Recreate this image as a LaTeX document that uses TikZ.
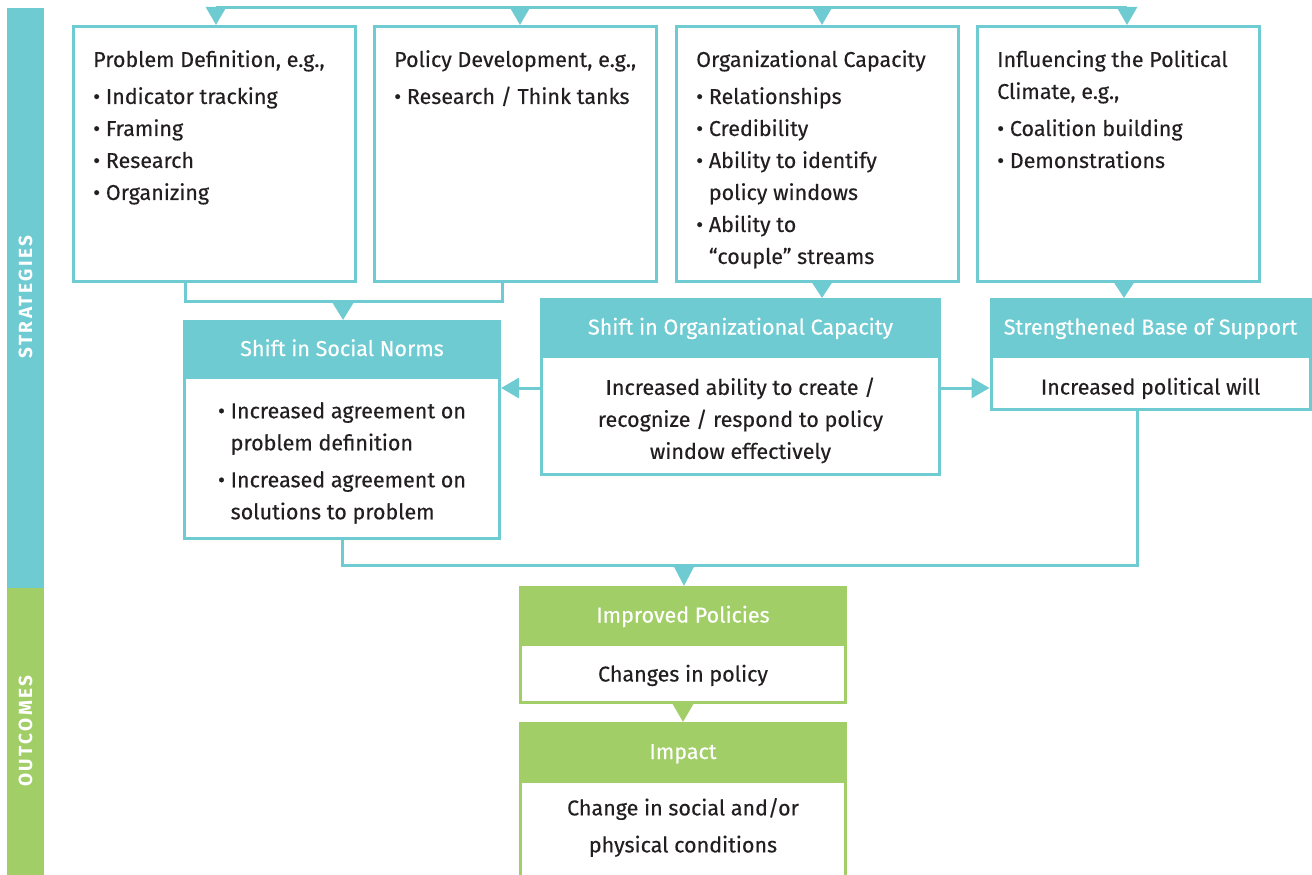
\documentclass[tikz,border=0pt]{standalone}
\usepackage{fontspec}
\setmainfont{Fira Sans}[UprightFeatures={FakeBold=0.3}]
\usepackage{xcolor}
\usetikzlibrary{positioning,arrows.meta}
\definecolor{stratteal}{HTML}{6FCBD2}
\definecolor{outgreen}{HTML}{A1CE67}
\definecolor{inkgray}{HTML}{231F20}
\newcommand{\bgap}{\phantom{•\ }}

\begin{document}
\begin{tikzpicture}[x=1pt,y=-1pt,
    every node/.style={font=\fontsize{21.5}{32}\selectfont, text=inkgray},
    stratbox/.style={draw=stratteal, line width=3pt, minimum width=282pt, minimum height=255pt, inner sep=0pt},
    listtxt/.style={anchor=north west, align=left, inner sep=0pt},
    hdr/.style={draw=#1, fill=#1, line width=3pt, text=white, inner sep=0pt, text height=16pt, text depth=0pt},
    bodybox/.style={draw=#1, fill=white, line width=3pt, inner sep=0pt},
    feed/.style={draw=stratteal, line width=3pt},
    tri/.style={feed, -{Triangle[width=20pt,length=18pt]}},
    bandtxt/.style={rotate=90, text=white, font=\fontsize{19}{20}\selectfont\bfseries\addfontfeature{LetterSpace=13}}
]
\clip (0,0) rectangle (1312,875);

% side bands
\fill[stratteal] (7,8) rectangle (44,588);
\fill[outgreen] (7,588) rectangle (44,875);
\node[bandtxt] (strat) at (25.5,297) {STRATEGIES};
\node[bandtxt] (outc) at (25.5,731) {OUTCOMES};

% strategy boxes
\node[stratbox] (pd) at (214.5,154) {};
\node[stratbox] (pv) at (515.5,154) {};
\node[stratbox] (oc) at (817.5,154) {};
\node[stratbox] (pc) at (1118.5,154) {};

\node[listtxt] (pdtxt) at ([shift={(21pt,-25pt)}]pd.north west)
  {Problem Definition, e.g.,\\[5pt] • Indicator tracking\\ • Framing\\ • Research\\ • Organizing};
\node[listtxt] (pvtxt) at ([shift={(21pt,-25pt)}]pv.north west)
  {Policy Development, e.g.,\\[5pt] • Research / Think tanks};
\node[listtxt] (octxt) at ([shift={(21pt,-25pt)}]oc.north west)
  {Organizational Capacity\\[5pt] • Relationships\\ • Credibility\\ • Ability to identify\\ \bgap policy windows\\ • Ability to\\ \bgap “couple” streams};
\node[listtxt] (pctxt) at ([shift={(21pt,-25pt)}]pc.north west)
  {Influencing the Political\\ Climate, e.g.,\\[5pt] • Coalition building\\ • Demonstrations};

% intermediate outcomes
\node[hdr=stratteal, minimum width=315pt, minimum height=53pt] (snh) at (342,348) {Shift in Social Norms};
\node[bodybox=stratteal, minimum width=315pt, minimum height=161pt, below=0pt of snh] (snb) {};
\node[align=left] (snbtxt) at ([yshift=-5pt]snb.center)
  {• Increased agreement on\\ \bgap problem definition\\[5pt] • Increased agreement on\\ \bgap solutions to problem};

\node[hdr=stratteal, minimum width=398pt, minimum height=54pt] (soh) at (740.5,326.5) {Shift in Organizational Capacity};
\node[bodybox=stratteal, minimum width=398pt, minimum height=118pt, below=0pt of soh] (sob) {};
\node[align=center] (sobtxt) at ([yshift=-5pt]sob.center)
  {Increased ability to create /\\ recognize / respond to policy\\ window effectively};

\node[hdr=stratteal, minimum width=319pt, minimum height=54pt] (sbh) at (1150.5,326.5) {Strengthened Base of Support};
\node[bodybox=stratteal, minimum width=319pt, minimum height=53pt, below=0pt of sbh, text height=23pt, text depth=0pt] (sbb) {Increased political will};

% outcomes
\node[hdr=outgreen, minimum width=325pt, minimum height=54pt] (iph) at (683,614.5) {Improved Policies};
\node[bodybox=outgreen, minimum width=325pt, minimum height=58pt, below=0pt of iph, text height=16pt, text depth=0pt] (ipb) {Changes in policy};

\node[hdr=outgreen, minimum width=325pt, minimum height=55pt] (imh) at (683,751) {Impact};
\node[bodybox=outgreen, minimum width=325pt, minimum height=102pt, below=0pt of imh] (imb) {};
\node[align=center] (imbtxt) at ([yshift=5pt]imb.center)
  {Change in social and/or\\[5pt] physical conditions};

% feeds from the top
\coordinate (t1) at (216,8);
\coordinate (t2) at (520,8);
\coordinate (t3) at (822,8);
\coordinate (t4) at (1127,8);
\draw[feed] (t1) -- (t4);
\draw[tri] (t1) -- (t1 |- pd.north);
\draw[tri] (t2) -- (t2 |- pv.north);
\draw[tri] (t3) -- (t3 |- oc.north);
\draw[tri] (t4) -- (t4 |- pc.north);

% into the intermediate outcomes
\coordinate (jl) at (185,301);
\coordinate (jr) at (502,301);
\coordinate (jm) at (343,301);
\draw[feed] (pd.south -| jl) -- (jl) -- (jr) -- (pv.south -| jr);
\draw[tri, -{Triangle[width=20pt,length=17pt]}] (jm) -- (jm |- snh.north);
\coordinate (oq) at (822,283);
\coordinate (pq) at (1124,283);
\draw[tri, -{Triangle[width=20pt,length=16pt]}] (oq) -- (oq |- soh.north);
\draw[tri, -{Triangle[width=20pt,length=16pt]}] (pq) -- (pq |- sbh.north);

% sideways
\coordinate (ay) at (0,388);
\draw[tri] (sob.west |- ay) -- (snb.east |- ay);
\draw[tri] (sob.east |- ay) -- (sbb.west |- ay);

% merge to policies
\coordinate (mr) at (1137,565);
\coordinate (mm) at (684,565);
\draw[feed] (snb.south) |- (mr) -- (mr |- sbb.south);
\draw[tri, -{Triangle[width=20pt,length=20pt]}] (mm) -- (mm |- iph.north);
\draw[tri, draw=outgreen, fill=outgreen, -{Triangle[width=20pt,length=18pt]}] (ipb.south) -- (imh.north);
\end{tikzpicture}
\end{document}
